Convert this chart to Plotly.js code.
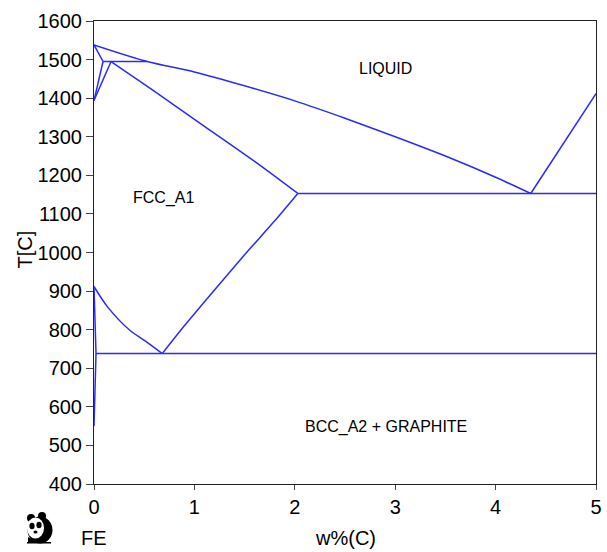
<!DOCTYPE html>
<html>
<head>
<meta charset="utf-8">
<script src="https://cdn.plot.ly/plotly-3.0.1.min.js"></script>
<style>html,body{margin:0;padding:0;background:#fff;}#chart{width:607px;height:552px;}</style>
</head>
<body>
<div id="chart"></div>
<script>
// ---- Phase boundary data (w%(C), T[C]) ----
const liquidusW = [0, 0.53, 1.0, 1.5, 2.0, 2.5, 3.0, 3.5, 4.0, 4.35];
const liquidusT = [1538, 1495, 1468, 1432, 1393, 1348, 1300, 1250, 1195, 1153];
const deltaSolidusW = [0, 0.09];
const deltaSolidusT = [1538, 1495];
const deltaGammaW = [0, 0.09];
const deltaGammaT = [1394, 1495];
const gammaDeltaW = [0, 0.17];
const gammaDeltaT = [1394, 1495];
const peritecticW = [0.09, 0.53];
const peritecticT = [1495, 1495];
const gammaSolidusW = [0.17, 0.6, 1.1, 1.6, 2.03];
const gammaSolidusT = [1495, 1418, 1327, 1236, 1153];
const eutecticW = [2.03, 5];
const eutecticT = [1153, 1153];
const graphiteLiqW = [4.35, 5];
const graphiteLiqT = [1153, 1412];
const acmW = [0.68, 0.9, 1.2, 1.5, 1.8, 2.03];
const acmT = [738, 810, 903, 994, 1082, 1153];
const a3W = [0, 0.135, 0.354, 0.52, 0.68];
const a3T = [912, 859, 799, 769, 738];
const alphaW = [0, 0.02, 0];
const alphaT = [912, 738, 550];
const eutectoidW = [0.02, 5];
const eutectoidT = [738, 738];

const xTicks = [0, 1, 2, 3, 4, 5];
const yTicks = [400, 500, 600, 700, 800, 900, 1000, 1100, 1200, 1300, 1400, 1500, 1600];

const regionLabels = ['LIQUID', 'FCC_A1', 'BCC_A2 + GRAPHITE'];
const regionW = [2.906, 0.688, 2.906];
const regionT = [1477, 1141, 548];

const lineColor = '#2a2aff';
const segs = [
  [liquidusW, liquidusT, 'spline'], [deltaSolidusW, deltaSolidusT, 'linear'], [deltaGammaW, deltaGammaT, 'linear'],
  [gammaDeltaW, gammaDeltaT, 'linear'], [peritecticW, peritecticT, 'linear'], [gammaSolidusW, gammaSolidusT, 'spline'],
  [eutecticW, eutecticT, 'linear'], [graphiteLiqW, graphiteLiqT, 'linear'], [acmW, acmT, 'spline'], [a3W, a3T, 'spline'],
  [alphaW, alphaT, 'linear'], [eutectoidW, eutectoidT, 'linear']
];
const traces = segs.map(s => ({
  x: s[0], y: s[1], type: 'scatter', mode: 'lines',
  line: {color: lineColor, width: 1.5, shape: s[2], smoothing: 0.8}, hoverinfo: 'skip', showlegend: false
}));

const W = 607, H = 552, L = 94, R = 11, T = 21, B = 68;
const pw = W - L - R, ph = H - T - B;
const px = x => (x - L) / pw;
const py = y => (H - B - y) / ph;

const font = 'Liberation Sans, Arial, sans-serif';
const annotations = regionLabels.map((t, i) => ({
  x: regionW[i], y: regionT[i], xref: 'x', yref: 'y', text: t, showarrow: false,
  font: {family: font, size: 16, color: '#000'}, xanchor: 'center', yanchor: 'middle'
}));
annotations.push({x: px(24.5), y: py(250), xref: 'paper', yref: 'paper', text: 'T[C]', textangle: -90,
  showarrow: false, font: {family: font, size: 20, color: '#000'}, xanchor: 'center', yanchor: 'middle'});
annotations.push({x: px(94), y: py(538), xref: 'paper', yref: 'paper', text: 'FE',
  showarrow: false, font: {family: font, size: 20, color: '#000'}, xanchor: 'center', yanchor: 'middle'});
annotations.push({x: px(345), y: py(538), xref: 'paper', yref: 'paper', text: 'w%(C)',
  showarrow: false, font: {family: font, size: 20, color: '#000'}, xanchor: 'center', yanchor: 'middle'});

const panda = '<svg xmlns="http://www.w3.org/2000/svg" viewBox="0 0 30 32">' +
  '<circle cx="8" cy="6" r="4" fill="#000"/><circle cx="19" cy="4" r="4" fill="#000"/>' +
  '<ellipse cx="17" cy="18" rx="12.5" ry="13.5" fill="#000"/>' +
  '<ellipse cx="12.5" cy="16" rx="8.5" ry="10.5" fill="#fff"/>' +
  '<ellipse cx="9" cy="14" rx="2.6" ry="3.2" fill="#000"/><ellipse cx="16" cy="13" rx="2.6" ry="3.2" fill="#000"/>' +
  '<ellipse cx="12.5" cy="20" rx="2" ry="1.5" fill="#000"/>' +
  '<path d="M5 25 Q13 31 21 25 L21 31 L5 31 Z" fill="#000"/>' +
  '<rect x="4" y="30" width="24" height="1.5" fill="#000"/></svg>';

const layout = {
  width: W, height: H,
  margin: {l: L, r: R, t: T, b: B, pad: 0},
  paper_bgcolor: '#fff', plot_bgcolor: '#fff',
  showlegend: false,
  xaxis: {
    range: [0, 5], tickvals: xTicks, ticktext: xTicks.map(String),
    showgrid: false, zeroline: false, showline: true, mirror: true,
    linecolor: '#222', linewidth: 1, ticks: 'outside', ticklen: 5, tickcolor: '#444',
    tickfont: {family: font, size: 20, color: '#000'}, fixedrange: true
  },
  yaxis: {
    range: [400, 1600], tickvals: yTicks, ticktext: yTicks.map(String),
    showgrid: false, zeroline: false, showline: true, mirror: true,
    linecolor: '#222', linewidth: 1, ticks: 'outside', ticklen: 7, tickcolor: '#444',
    tickfont: {family: font, size: 20, color: '#000'}, fixedrange: true
  },
  annotations: annotations,
  images: [{
    source: 'data:image/svg+xml;utf8,' + encodeURIComponent(panda),
    xref: 'paper', yref: 'paper', x: px(23), y: py(512), sizex: 30 / pw, sizey: 32 / ph,
    xanchor: 'left', yanchor: 'top', sizing: 'stretch', layer: 'above'
  }]
};

Plotly.newPlot('chart', traces, layout, {staticPlot: true, displayModeBar: false});
</script>
</body>
</html>
